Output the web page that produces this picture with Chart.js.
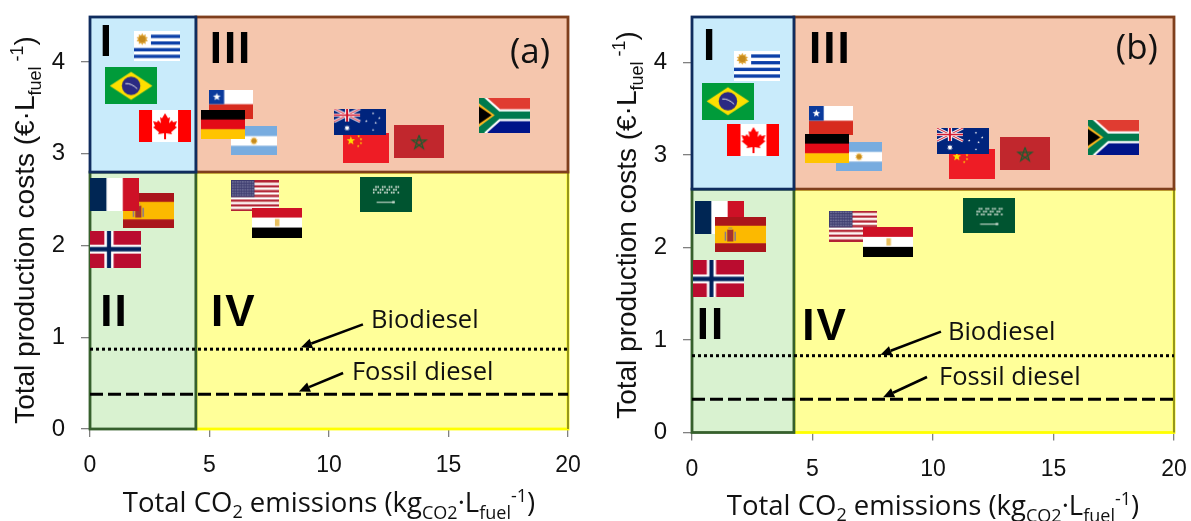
<!DOCTYPE html>
<html><head><meta charset="utf-8">
<script src="https://cdn.jsdelivr.net/npm/chart.js@4"></script>
<style>html,body{margin:0;padding:0;background:#fff;overflow:hidden}canvas{position:absolute;top:0}</style>
</head><body>
<canvas id="chartA" width="595" height="521" style="left:0"></canvas>
<canvas id="chartB" width="596" height="521" style="left:595px"></canvas>
<script>
// ---- Data ----
const xTickValues = [0, 5, 10, 15, 20];
const yTickValues = [0, 1, 2, 3, 4];
const xAxisMax = 20;
const yAxisMaxA = 4.49, yAxisMaxB = 4.49;

const flagNamesA = ['Uruguay','Brazil','Canada','Chile','Argentina','Germany','Spain','France','Norway','USA','Egypt','China','Australia','Morocco','SouthAfrica','SaudiArabia'];
const flagXA = [2.80,1.72,3.14,5.92,6.86,5.56,2.45,1.03,1.07,6.92,7.82,11.55,11.30,13.77,17.34,12.38];
const flagYA = [4.17,3.74,3.30,3.54,3.14,3.32,2.38,2.56,1.96,2.54,2.25,3.06,3.35,3.13,3.42,2.56];

const flagNamesB = ['Uruguay','Brazil','Canada','Chile','Argentina','Germany','France','Spain','Norway','USA','Egypt','China','Australia','Morocco','SouthAfrica','SaudiArabia'];
const flagXB = [2.70,1.49,2.55,5.77,6.93,5.60,1.14,2.01,1.08,6.70,8.15,11.62,11.24,13.82,17.47,12.34];
const flagYB = [3.96,3.58,3.16,3.37,2.98,3.07,2.32,2.14,1.66,2.23,2.06,2.90,3.15,3.01,3.19,2.34];

const biodieselA = 0.87, fossilA = 0.38;
const biodieselB = 0.83, fossilB = 0.36;
const splitXA = 4.43, splitYA = 2.80;
const splitXB = 4.23, splitYB = 2.63;

const seriesLabels = ['Biodiesel', 'Fossil diesel'];
const quadrantNames = ['I', 'II', 'III', 'IV'];
const quadrantXA = [0.71,1.02,5.90,6.02], quadrantYA = [4.20,1.26,4.12,1.26];
const quadrantXB = [0.75,0.79,5.74,5.52], quadrantYB = [4.16,1.14,4.12,1.13];
const panelA = '(a)', panelB = '(b)';
const panelPosA = [18.41,4.10], panelPosB = [18.46,4.14];
// arrows: tailX, tailY, tipX, tipY
const arrowsA = [[11.42,1.14,8.83,0.89],[10.59,0.61,8.74,0.41]];
const arrowsB = [[10.33,1.09,7.82,0.84],[9.75,0.60,7.93,0.38]];
const seriesLabelPosA = [[11.76,1.18],[10.96,0.61]];
const seriesLabelPosB = [[10.62,1.08],[10.25,0.59]];

// ---- Flag sizes and artwork ----
const flagSizes = {Uruguay:[46,30],Brazil:[52,37],Canada:[52,32],Chile:[44,29],Germany:[44,29],Argentina:[46,29],France:[49,33],Spain:[51,35],Norway:[51,37],USA:[48,31],Egypt:[50,30],Australia:[52,26],China:[46,30],Morocco:[50,33],SouthAfrica:[51,35],SaudiArabia:[52,35]};

function star(c,x,y,r,n,inner){c.beginPath();for(let i=0;i<n*2;i++){const a=-Math.PI/2+i*Math.PI/n,q=i%2?r*(inner||0.42):r;c.lineTo(x+q*Math.cos(a),y+q*Math.sin(a));}c.closePath();}
function hbands(c,w,h,cols,fr){let y=0;const tot=fr?fr.reduce((a,b)=>a+b,0):cols.length;cols.forEach((k,i)=>{const d=(fr?fr[i]:1)*h/tot;c.fillStyle=k;c.fillRect(0,y,w,d+.5);y+=d;});}
function sun(c,x,y,r,col){c.fillStyle=col;star(c,x,y,r,10,0.68);c.fill();c.fillStyle='#c68a1e';c.beginPath();c.arc(x,y,r*0.55,0,7);c.fill();}
const flagPainters = {
 Uruguay(c,w,h){c.fillStyle='#fff';c.fillRect(0,0,w,h);c.fillStyle='#0b3fa8';for(let i=1;i<9;i+=2){const x=i<5?w*0.37:0;c.fillRect(x,i*h/9,w-x,h/9);}sun(c,w*0.18,h*0.26,h*0.2,'#e0a83a');},
 Brazil(c,w,h){c.fillStyle='#009b3a';c.fillRect(0,0,w,h);c.fillStyle='#fedf00';c.beginPath();c.moveTo(w*.09,h/2);c.lineTo(w/2,h*.12);c.lineTo(w*.91,h/2);c.lineTo(w/2,h*.88);c.closePath();c.fill();c.fillStyle='#2b2a83';c.beginPath();c.arc(w/2,h/2,h*.25,0,7);c.fill();c.strokeStyle='#e8e8e8';c.lineWidth=1;c.beginPath();c.moveTo(w*.39,h*.44);c.quadraticCurveTo(w*.5,h*.42,w*.62,h*.58);c.stroke();},
 Canada(c,w,h){c.fillStyle='#fff';c.fillRect(0,0,w,h);c.fillStyle='#ff0000';c.fillRect(0,0,w*.25,h);c.fillRect(w*.75,0,w*.25,h);const s=h/32,x=w/2,y=h*.5;const p=[[0,-13],[3,-8],[5,-9],[4,-3],[7,-6],[8,-4],[12,-5],[10,0],[12,1],[6,6],[7,8],[1,7],[1,13],[-1,13],[-1,7],[-7,8],[-6,6],[-12,1],[-10,0],[-12,-5],[-8,-4],[-7,-6],[-4,-3],[-5,-9],[-3,-8]];c.beginPath();p.forEach(q=>c.lineTo(x+q[0]*s,y+q[1]*s));c.closePath();c.fill();},
 Chile(c,w,h){hbands(c,w,h,['#fff','#d72b1e']);c.fillStyle='#0a3a9c';c.fillRect(0,0,w/3,h/2);c.fillStyle='#fff';star(c,w/6,h/4,h*.14,5);c.fill();},
 Germany(c,w,h){hbands(c,w,h,['#000','#e30a17','#ffc400']);},
 Argentina(c,w,h){hbands(c,w,h,['#78acdf','#fff','#78acdf']);sun(c,w/2,h/2,h*.14,'#e9b54a');},
 France(c,w,h){c.fillStyle='#fff';c.fillRect(0,0,w,h);c.fillStyle='#002654';c.fillRect(0,0,w/3,h);c.fillStyle='#ce1126';c.fillRect(w*2/3,0,w/3,h);},
 Spain(c,w,h){hbands(c,w,h,['#aa151b','#fcb900','#aa151b'],[1,2,1]);c.fillStyle='#a6332e';c.fillRect(w*.24,h*.36,w*.12,h*.34);c.fillStyle='#8a7a8a';c.fillRect(w*.19,h*.42,w*.03,h*.26);c.fillRect(w*.38,h*.42,w*.03,h*.26);c.fillStyle='#c9a23c';c.fillRect(w*.26,h*.29,w*.08,h*.07);},
 Norway(c,w,h){c.fillStyle='#ba0c2f';c.fillRect(0,0,w,h);c.fillStyle='#fff';c.fillRect(w*.28,0,w*.18,h);c.fillRect(0,h*.38,w,h*.24);c.fillStyle='#00205b';c.fillRect(w*.33,0,w*.08,h);c.fillRect(0,h*.44,w,h*.12);},
 USA(c,w,h){for(let i=0;i<13;i++){c.fillStyle=i%2?'#fff':'#b22234';c.fillRect(0,i*h/13,w,h/13+.3);}c.fillStyle='#3c3b6e';c.fillRect(0,0,w*.48,h*7/13);c.fillStyle='#c8cbe0';for(let r=0;r<6;r++)for(let k=0;k<9;k++){c.fillRect(w*.02+k*w*.052,1+r*h*.085,1,1);}},
 Egypt(c,w,h){hbands(c,w,h,['#ce1126','#fff','#000']);c.fillStyle='#e8c060';c.fillRect(w*.46,h*.38,w*.09,h*.24);},
 Australia(c,w,h){c.fillStyle='#00247d';c.fillRect(0,0,w,h);const W=w/2,H=h/2;c.strokeStyle='#fff';c.lineWidth=3;c.beginPath();c.moveTo(0,0);c.lineTo(W,H);c.moveTo(W,0);c.lineTo(0,H);c.stroke();c.strokeStyle='#cf142b';c.lineWidth=1;c.stroke();c.fillStyle='#fff';c.fillRect(W*.42,0,W*.16,H);c.fillRect(0,H*.38,W,H*.24);c.fillStyle='#cf142b';c.fillRect(W*.46,0,W*.08,H);c.fillRect(0,H*.44,W,H*.12);c.fillStyle='#fff';star(c,w*.25,h*.75,h*.12,7,.5);c.fill();[[.75,.18],[.62,.48],[.75,.82],[.87,.36],[.8,.55]].forEach(p=>{star(c,w*p[0],h*p[1],h*.05,5);c.fill();});},
 China(c,w,h){c.fillStyle='#ee1c25';c.fillRect(0,0,w,h);c.fillStyle='#ffde00';star(c,w*.17,h*.25,h*.15,5);c.fill();[[.34,.1],[.39,.2],[.39,.33],[.33,.43]].forEach(p=>{star(c,w*p[0],h*p[1],h*.05,5);c.fill();});},
 Morocco(c,w,h){c.fillStyle='#c1272d';c.fillRect(0,0,w,h);c.strokeStyle='#1f5b2f';c.lineWidth=1.3;const r=h*.22,x=w/2,y=h*.52;c.beginPath();for(let i=0;i<=5;i++){const a=-Math.PI/2+i*2*2*Math.PI/5;c.lineTo(x+r*Math.cos(a),y+r*Math.sin(a));}c.stroke();},
 SouthAfrica(c,w,h){c.fillStyle='#e03c31';c.fillRect(0,0,w,h/2);c.fillStyle='#001489';c.fillRect(0,h/2,w,h/2);
  const Y=(lw,col)=>{c.strokeStyle=col;c.lineWidth=lw;c.beginPath();c.moveTo(-4,-3);c.lineTo(w*.37,h/2);c.lineTo(w+2,h/2);c.moveTo(-4,h+3);c.lineTo(w*.37,h/2);c.stroke();};
  Y(h*.34,'#fff');Y(h*.22,'#007a4d');
  c.fillStyle='#ffb81c';c.beginPath();c.moveTo(0,h*.17);c.lineTo(w*.31,h/2);c.lineTo(0,h*.83);c.closePath();c.fill();
  c.fillStyle='#000';c.beginPath();c.moveTo(0,h*.25);c.lineTo(w*.25,h/2);c.lineTo(0,h*.75);c.closePath();c.fill();},
 SaudiArabia(c,w,h){c.fillStyle='#005430';c.fillRect(0,0,w,h);c.fillStyle='#dfe8df';for(let r=0;r<3;r++)for(let k=0;k<12;k++){if((k+r)%3!==0)c.fillRect(w*.25+k*w*.043,h*.27+r*h*.08,w*.03,h*.05);}c.fillRect(w*.32,h*.72,w*.34,1);c.fillRect(w*.62,h*.70,w*.05,2);}
};
const flagImages = {};
Object.keys(flagPainters).forEach(n=>{const cv=document.createElement('canvas');cv.width=flagSizes[n][0];cv.height=flagSizes[n][1];flagPainters[n](cv.getContext('2d'),cv.width,cv.height);flagImages[n]=cv;});

// ---- Rich text helper (sub- and superscripts) ----
const TITLE_FONT='"Open Sans", "Noto Sans", sans-serif', Y_FONT='"Liberation Sans", Arial, sans-serif';
function rich(ctx,segs,cx,cy,rot,family){
  ctx.save();ctx.translate(cx,cy);ctx.rotate(rot);ctx.textBaseline='alphabetic';ctx.textAlign='left';ctx.fillStyle='#111';
  let tot=0;segs.forEach(s=>{ctx.font=s[1]+'px '+family;tot+=ctx.measureText(s[0]).width;});
  let x=-tot/2;segs.forEach(s=>{ctx.font=s[1]+'px '+family;ctx.fillText(s[0],x,s[2]);x+=ctx.measureText(s[0]).width;});
  ctx.restore();
}
const xTitleSegs=[['Total CO',27.5,0],['2',18,6],[' emissions (kg',27.5,0],['CO2',18,7],['·L',27.5,0],['fuel',18,7],['-1',18,-10],[')',27.5,0]];
const yTitleSegs=[['Total production costs (€·L',28,0],['fuel',18,7],[' -1',18,-11],[')',28,0]];

const regionsPlugin={id:'regions',beforeDatasetsDraw(ch,a,o){
  const c=ch.ctx,X=ch.scales.x,Y=ch.scales.y;
  const x0=X.getPixelForValue(0),x1=X.getPixelForValue(o.splitX),x2=X.getPixelForValue(xAxisMax);
  const y0=Y.getPixelForValue(0),y1=Y.getPixelForValue(o.splitY),y2=Y.getPixelForValue(o.yMax);
  const box=(l,t,r,b,f,s)=>{c.fillStyle=f;c.fillRect(l,t,r-l,b-t);c.strokeStyle=s;c.lineWidth=2.8;c.strokeRect(l,t,r-l,b-t);};
  box(x1,y1,x2,y0,'#ffff99','#ffff00');
  c.strokeStyle='#8c8c1e';c.lineWidth=1.8;c.beginPath();c.moveTo(x2,y1);c.lineTo(x2,y0);c.stroke();
  box(x1,y2,x2,y1,'#f5c6ad','#7f3f1d');
  box(x0,y1,x1,y0,'#d9f2d0','#36602c');
  box(x0,y2,x1,y1,'#c9ebfb','#0f2c5e');
}};
const notesPlugin={id:'notes',afterDatasetsDraw(ch,a,o){
  const c=ch.ctx,X=ch.scales.x,Y=ch.scales.y,px=v=>X.getPixelForValue(v),py=v=>Y.getPixelForValue(v);
  c.save();c.fillStyle='#000';c.textAlign='center';c.textBaseline='middle';
  c.font='bold 44px "Liberation Sans", Arial, sans-serif';c.letterSpacing='2px';
  quadrantNames.forEach((n,i)=>c.fillText(n,px(o.qx[i]),py(o.qy[i])));
  c.letterSpacing='0px';
  c.font='35px '+TITLE_FONT;c.fillStyle='#111';c.fillText(o.panel,px(o.panelPos[0]),py(o.panelPos[1]));
  c.textAlign='left';c.font='25.5px '+TITLE_FONT;
  seriesLabels.forEach((n,i)=>c.fillText(n,px(o.labelPos[i][0]),py(o.labelPos[i][1])));
  o.arrows.forEach(r=>{
    const tx=px(r[0]),ty=py(r[1]),hx=px(r[2]),hy=py(r[3]),ang=Math.atan2(hy-ty,hx-tx),L=11,W=5;
    const bx=hx-L*Math.cos(ang),by=hy-L*Math.sin(ang);
    c.strokeStyle='#000';c.lineWidth=2.6;c.beginPath();c.moveTo(tx,ty);c.lineTo(bx,by);c.stroke();
    c.fillStyle='#000';c.beginPath();c.moveTo(hx,hy);c.lineTo(bx-W*Math.sin(ang),by+W*Math.cos(ang));c.lineTo(bx+W*Math.sin(ang),by-W*Math.cos(ang));c.closePath();c.fill();
  });
  c.restore();
  rich(c,xTitleSegs,o.xTitle[0],o.xTitle[1],0,TITLE_FONT);
  rich(c,yTitleSegs,o.yTitle[0],o.yTitle[1],-Math.PI/2,Y_FONT);
}};

function build(id,geo,names,xs,ys,bio,fossil,notes,regions){
  const pts=names.map((n,i)=>({x:xs[i],y:ys[i]}));
  new Chart(document.getElementById(id),{
    type:'scatter',
    data:{datasets:[
      {label:'Flags',data:pts,order:0,clip:false,pointRadius:10,pointHoverRadius:10,pointStyle:c=>flagImages[names[c.dataIndex]]},
      {label:seriesLabels[0],type:'line',data:[{x:0,y:bio},{x:xAxisMax,y:bio}],order:1,borderColor:'#000',borderWidth:3,borderDash:[3,3],pointRadius:0},
      {label:seriesLabels[1],type:'line',data:[{x:0,y:fossil},{x:xAxisMax,y:fossil}],order:2,borderColor:'#000',borderWidth:3,borderDash:[13,5],pointRadius:0}
    ]},
    options:{
      responsive:false,animation:false,events:[],
      layout:{padding:{left:0,bottom:0,top:geo.top,right:geo.right}},
      plugins:{legend:{display:false},tooltip:{enabled:false},regions,notes},
      scales:{
        x:{type:'linear',min:0,max:xAxisMax,
          afterFit(s){s.height=geo.bottom;s.paddingLeft=0;s.paddingRight=0;},
          afterBuildTicks(s){s.ticks=xTickValues.map(v=>({value:v}));},
          border:{display:false},
          grid:{drawOnChartArea:false,drawTicks:true,tickLength:8,color:'#808080',lineWidth:1.3},
          ticks:{padding:15,maxRotation:0,autoSkip:false,color:'#111',font:{family:'"Liberation Sans", Arial, sans-serif',size:23}}},
        y:{type:'linear',min:0,max:regions.yMax,
          afterFit(s){s.width=geo.left;s.paddingTop=0;s.paddingBottom=0;},
          afterBuildTicks(s){s.ticks=yTickValues.map(v=>({value:v}));},
          border:{display:false},
          grid:{drawOnChartArea:false,drawTicks:true,tickLength:9,color:'#808080',lineWidth:1.3},
          ticks:{padding:16,autoSkip:false,color:'#111',font:{family:'"Liberation Sans", Arial, sans-serif',size:24}}}
      }
    },
    plugins:[regionsPlugin,notesPlugin]
  });
}
build('chartA',{left:90,top:17,right:27,bottom:92},flagNamesA,flagXA,flagYA,biodieselA,fossilA,
  {qx:quadrantXA,qy:quadrantYA,panel:panelA,panelPos:panelPosA,arrows:arrowsA,labelPos:seriesLabelPosA,xTitle:[329,512],yTitle:[34,230]},
  {splitX:splitXA,splitY:splitYA,yMax:yAxisMaxA});
build('chartB',{left:97,top:17,right:17,bottom:88.5},flagNamesB,flagXB,flagYB,biodieselB,fossilB,
  {qx:quadrantXB,qy:quadrantYB,panel:panelB,panelPos:panelPosB,arrows:arrowsB,labelPos:seriesLabelPosB,xTitle:[338,515],yTitle:[41,225]},
  {splitX:splitXB,splitY:splitYB,yMax:yAxisMaxB});
</script>
</body></html>
